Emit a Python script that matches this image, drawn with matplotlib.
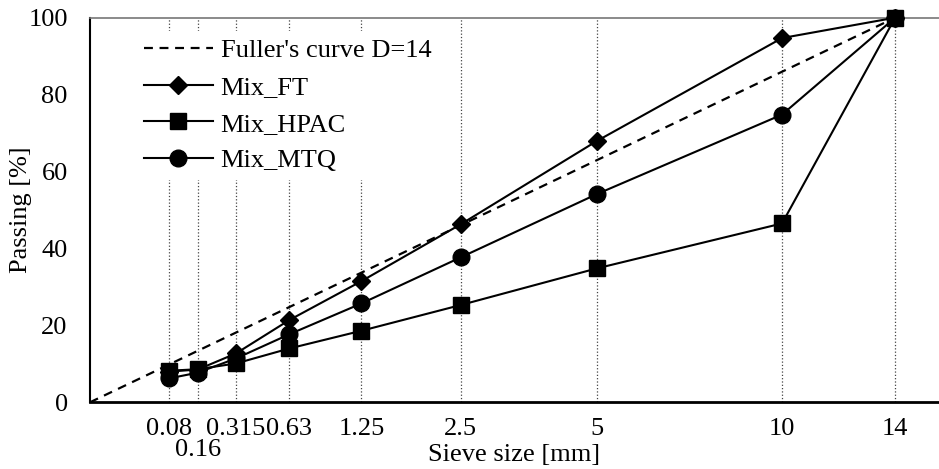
import numpy as np
import matplotlib.pyplot as plt

plt.rcParams['font.family'] = ['Liberation Serif', 'DejaVu Serif']
plt.rcParams['font.size'] = 19

# sieve sizes [mm] and passing [%]
sieves = [0.08, 0.16, 0.315, 0.63, 1.25, 2.5, 5, 10, 14]
sieve_labels = ['0.08', '\n0.16', '0.315', '0.63', '1.25', '2.5', '5', '10', '14']
mix_ft = [8.0, 8.5, 12.7, 21.4, 31.5, 46.3, 67.9, 94.7, 100]
mix_hpac = [8.2, 8.6, 10.1, 14.0, 18.6, 25.3, 34.8, 46.5, 100]
mix_mtq = [6.2, 7.7, 11.4, 17.7, 25.7, 37.7, 54.1, 74.8, 100]
# Fuller's curve, straight on the d^0.45 axis
fuller_d = [0, 14]
fuller_p = [0, 100]

n = 0.45
def fwd(x):
    return np.sign(x) * np.abs(x) ** n
def inv(t):
    return np.sign(t) * np.abs(t) ** (1 / n)

fig = plt.figure(figsize=(9.39, 4.69), dpi=100)
ax = fig.add_axes([0.0958, 0.1422, 0.9042, 0.8201])
ax.set_xscale('function', functions=(fwd, inv))

ax.plot(fuller_d, fuller_p, color='black', lw=1.6, ls=(0, (4, 3)), label="Fuller's curve D=14")
ax.plot(sieves, mix_ft, color='black', lw=1.5, marker='D', ms=9, label='Mix_FT', clip_on=False, zorder=3)
ax.plot(sieves, mix_hpac, color='black', lw=1.5, marker='s', ms=11, label='Mix_HPAC', clip_on=False, zorder=3)
ax.plot(sieves, mix_mtq, color='black', lw=1.5, marker='o', ms=12, label='Mix_MTQ', clip_on=False, zorder=3)

ax.set_xlim(0, 15.75)
ax.set_ylim(0, 100)
ax.set_xticks(sieves)
ax.set_xticklabels(sieve_labels, linespacing=0.95)
ax.set_yticks([0, 20, 40, 60, 80, 100])
ax.xaxis.grid(True, ls=':', color='#444444', lw=0.9)
ax.tick_params(axis='both', length=0)
ax.tick_params(axis='y', pad=16)
ax.tick_params(axis='x', pad=11)

ax.spines['right'].set_visible(False)
ax.spines['top'].set_color('#777777')
ax.spines['top'].set_linewidth(1.2)
ax.spines['bottom'].set_linewidth(2)
ax.spines['left'].set_linewidth(1.5)

ax.set_xlabel('Sieve size [mm]')
ax.xaxis.set_label_coords(0.5, -0.108)
ax.set_ylabel('Passing [%]')
ax.yaxis.set_label_coords(-0.068, 0.5)

leg = ax.legend(loc='upper left', bbox_to_anchor=(0.039, 1.0), frameon=True, framealpha=1,
                edgecolor='none', fancybox=False, handlelength=2.6, labelspacing=0.5,
                handletextpad=0.3, borderpad=0.3)

fig.savefig('out.png', dpi=100)
